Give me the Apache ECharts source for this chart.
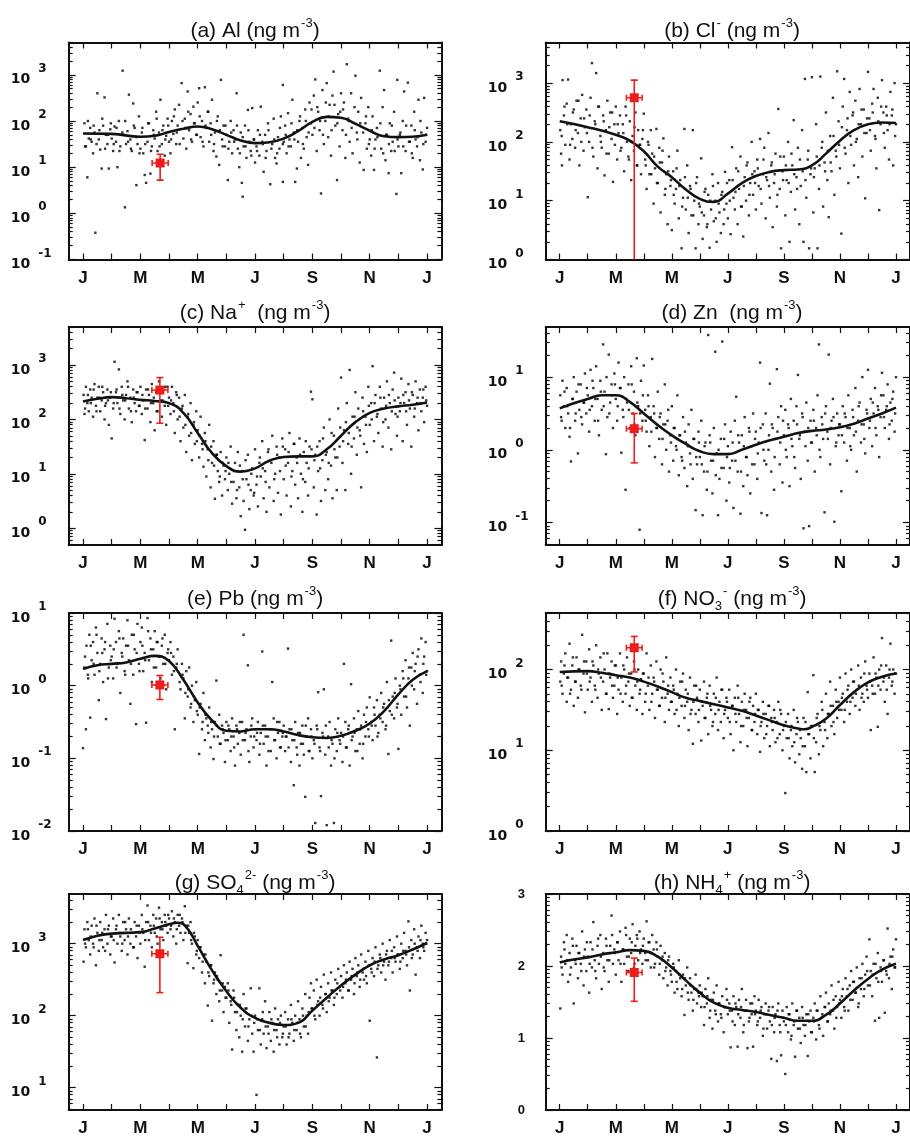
<!DOCTYPE html>
<html><head><meta charset="utf-8">
<script src="https://cdn.jsdelivr.net/npm/echarts@6/dist/echarts.min.js"></script>
<style>html,body{margin:0;padding:0;background:#fff}#c{width:910px;height:1137px}</style>
</head><body><div id="c"></div>
<script>
// x = month of year (0 = 1 Jan, 12 = next 1 Jan); y = log10 value (exponent shown on the axis)
const monthNames = ['J','M','M','J','S','N','J'];
const labelMonths = [0,2,4,6,8,10,12];
const tickMonths = [0,1,2,3,4,5,6,7,8,9,10,11,12];
// sample months of the dense core of each cloud (one value per entry in the *Core arrays)
const coreMonths = [0.07,0.17,0.27,0.37,0.47,0.57,0.67,0.77,0.87,0.97,1.07,1.17,1.27,1.37,1.47,1.57,1.67,1.77,1.87,1.97,
2.07,2.17,2.27,2.37,2.47,2.57,2.67,2.77,2.87,2.97,3.07,3.17,3.27,3.37,3.47,3.57,3.67,3.77,3.87,3.97,
4.07,4.17,4.27,4.37,4.47,4.57,4.67,4.77,4.87,4.97,5.07,5.17,5.27,5.37,5.47,5.57,5.67,5.77,5.87,5.97,
6.07,6.17,6.27,6.37,6.47,6.57,6.67,6.77,6.87,6.97,7.07,7.17,7.27,7.37,7.47,7.57,7.67,7.77,7.87,7.97,
8.07,8.17,8.27,8.37,8.47,8.57,8.67,8.77,8.87,8.97,9.07,9.17,9.27,9.37,9.47,9.57,9.67,9.77,9.87,9.97,
10.07,10.17,10.27,10.37,10.47,10.57,10.67,10.77,10.87,10.97,11.07,11.17,11.27,11.37,11.47,11.57,11.67,11.77,11.87,11.97];

// ---- (a) Al ----
const alDots = [[0.05,1.95],[0.1,1.45],[0.15,0.78],[0.2,1.62],[0.25,1.85],[0.3,1.55],[0.35,1.3],[0.4,1.75],[0.43,-0.42],[0.5,2.6],[0.55,1.6],[0.6,1.38],[0.65,0.97],[0.7,1.9],[0.75,2.51],[0.8,1.7],[0.85,1.5],[0.9,0.97],[0.95,1.82],[1.0,1.62],
[1.05,1.35],[1.1,1.88],[1.15,1.55],[1.2,1.0],[1.25,2.0],[1.3,1.45],[1.38,3.09],[1.42,1.7],[1.46,0.13],[1.5,1.5],[1.55,1.78],[1.6,2.57],[1.65,1.6],[1.7,1.35],[1.75,2.38],[1.8,1.85],[1.86,0.61],[1.9,1.5],[1.95,2.1],[2.0,1.4],
[2.05,1.75],[2.1,1.3],[2.15,0.83],[2.2,0.66],[2.25,1.55],[2.3,1.95],[2.35,0.86],[2.4,1.45],[2.45,1.8],[2.5,1.62],[2.55,2.2],[2.6,1.35],[2.65,1.75],[2.7,2.46],[2.75,1.5],[2.8,1.9],[2.85,1.25],[2.9,1.68],[2.95,2.05],[3.0,1.55],
[3.05,1.3],[3.1,2.0],[3.15,1.72],[3.2,2.25],[3.25,1.5],[3.3,1.9],[3.35,2.35],[3.44,2.82],[3.5,1.62],[3.55,2.05],[3.6,1.4],[3.65,2.64],[3.7,1.8],[3.75,2.15],[3.8,1.55],[3.85,2.31],[3.9,1.95],[3.95,1.7],[4.0,2.4],
[4.05,2.71],[4.1,1.65],[4.15,2.0],[4.2,1.45],[4.25,2.73],[4.3,1.85],[4.35,2.2],[4.4,1.55],[4.45,1.95],[4.5,2.46],[4.55,1.35],[4.6,1.75],[4.65,1.23],[4.7,2.1],[4.75,1.05],[4.81,2.89],[4.85,1.6],[4.9,1.9],[4.95,1.45],[5.0,1.7],
[5.05,0.72],[5.1,1.55],[5.15,2.0],[5.2,1.3],[5.25,1.8],[5.3,1.6],[5.36,2.6],[5.4,1.4],[5.45,1.0],[5.5,1.75],[5.54,0.66],[5.57,0.36],[5.6,1.45],[5.65,1.9],[5.7,1.2],[5.75,2.24],[5.8,1.55],[5.85,1.35],[5.9,2.28],[5.95,1.6],[6.0,1.1],
[6.05,1.45],[6.1,1.8],[6.15,1.25],[6.2,2.31],[6.25,1.55],[6.3,0.9],[6.35,1.7],[6.4,1.35],[6.45,1.95],[6.53,0.63],[6.6,1.5],[6.65,2.05],[6.7,1.2],[6.75,1.08],[6.8,1.65],[6.85,1.4],[6.9,2.1],[6.97,2.78],[6.97,0.68],[7.0,1.55],
[7.05,1.9],[7.1,1.3],[7.15,2.17],[7.2,1.6],[7.25,1.45],[7.3,2.46],[7.35,1.75],[7.4,0.68],[7.46,0.97],[7.5,1.55],[7.55,2.0],[7.6,1.2],[7.65,1.85],[7.7,1.4],[7.75,2.25],[7.8,1.65],[7.85,1.05],[7.9,2.4],[7.95,1.95],[8.0,1.7],
[8.05,2.55],[8.1,2.9],[8.15,1.35],[8.2,2.2],[8.25,1.8],[8.3,0.43],[8.35,2.67],[8.4,1.5],[8.45,2.0],[8.5,2.82],[8.55,1.65],[8.6,2.35],[8.65,1.25],[8.7,2.55],[8.74,3.07],[8.8,1.9],[8.86,0.72],[8.9,2.15],[8.95,1.45],[9.0,2.6],
[9.05,1.8],[9.1,2.4],[9.15,1.2],[9.2,3.23],[9.25,2.05],[9.3,1.55],[9.35,2.6],[9.4,1.3],[9.5,2.98],[9.55,1.75],[9.6,2.2],[9.65,1.1],[9.7,2.5],[9.79,0.94],[9.85,1.95],[9.9,1.4],[9.95,2.3],[10.0,1.6],
[10.05,1.25],[10.1,2.1],[10.15,0.94],[10.2,1.6],[10.25,1.85],[10.35,3.09],[10.4,1.4],[10.45,2.3],[10.5,2.67],[10.55,1.15],[10.6,1.7],[10.66,0.87],[10.7,1.95],[10.75,1.35],[10.8,1.55],[10.85,2.2],[10.93,0.42],[10.96,2.89],[11.0,1.45],
[11.05,1.7],[11.1,0.87],[11.15,2.0],[11.2,2.64],[11.25,1.35],[11.33,2.83],[11.4,1.55],[11.45,1.9],[11.5,1.2],[11.55,2.2],[11.6,1.6],[11.65,1.45],[11.7,2.46],[11.75,1.15],[11.8,1.75],[11.85,0.95],[11.9,2.5],[11.95,1.55],[12.0,1.85]];
const alCore = [1.45,2.0,1.6,1.9,1.5,1.8,2.05,1.4,1.7,1.95, 1.5,1.85,1.35,1.75,2.0,1.55,1.4,1.9,1.65,1.3,
1.85,1.5,1.95,1.35,1.7,2.05,1.45,1.8,1.6,1.9, 1.6,2.1,1.75,1.5,2.0,1.85,2.2,1.6,1.95,1.7,
2.1,1.55,1.9,2.2,1.7,1.5,2.0,1.8,1.45,1.9, 1.4,1.75,1.55,1.9,1.3,1.65,1.45,1.8,1.25,1.6,
1.35,1.7,1.5,1.2,1.8,1.4,1.6,1.3,1.85,1.5, 1.7,1.45,1.95,1.6,1.8,2.1,1.5,2.0,1.75,2.25,
1.85,2.3,2.0,1.7,2.4,2.1,1.8,2.35,1.95,2.2, 2.25,1.7,2.0,1.85,2.3,1.6,1.95,1.75,2.1,1.5,
1.8,1.4,1.65,1.95,1.3,1.7,1.5,1.9,1.35,1.6, 1.75,1.45,1.9,1.55,1.3,1.8,1.65,2.0,1.5,1.7];
const alLine = [[0,1.73],[1,1.72],[2,1.66],[2.5,1.68],[3,1.76],[3.5,1.83],[4,1.88],[4.5,1.82],[5,1.70],[5.5,1.58],[6,1.52],[6.5,1.54],[7,1.62],[7.5,1.78],[8,1.98],[8.5,2.09],[9,2.07],[9.5,1.94],[10,1.79],[10.5,1.67],[11,1.65],[11.5,1.66],[12,1.70]];
const alObs = [2.69, 1.09, 2.41, 2.97, 0.72, 1.28];

// ---- (b) Cl- ----
const clDots = [[0.02,2.2],[0.05,1.8],[0.08,1.6],[0.1,3.05],[0.15,2.45],[0.2,1.95],[0.25,2.65],[0.3,3.06],[0.35,1.7],[0.4,2.3],[0.45,2.05],[0.5,2.55],[0.55,1.9],[0.6,2.7],[0.65,2.15],[0.7,1.6],[0.75,2.4],[0.8,2.8],[0.85,1.85],[0.9,2.25],[0.95,2.55],
[1.0,1.06],[1.05,2.0],[1.1,2.75],[1.15,3.34],[1.2,1.75],[1.25,2.35],[1.3,3.17],[1.35,1.55],[1.4,2.6],[1.45,2.1],[1.5,1.9],[1.55,2.45],[1.6,1.43],[1.65,2.2],[1.7,2.7],[1.75,1.8],[1.8,2.5],[1.85,2.05],[1.9,1.32],[1.95,2.3],
[2.0,2.6],[2.05,1.7],[2.1,2.15],[2.15,2.45],[2.2,1.9],[2.25,2.3],[2.3,1.5],[2.35,2.6],[2.4,2.0],[2.45,1.75],[2.5,2.35],[2.55,1.35],[2.6,2.1],[2.65,1.85],[2.7,2.5],[2.75,1.6],[2.8,2.2],[2.85,1.95],[2.9,1.45],[2.95,2.05],
[3.0,2.48],[3.05,1.7],[3.1,1.2],[3.15,2.0],[3.2,1.45],[3.25,2.2],[3.3,1.8],[3.35,0.95],[3.4,1.55],[3.45,2.22],[3.5,1.3],[3.55,1.9],[3.6,0.8],[3.65,1.65],[3.7,2.06],[3.75,1.1],[3.8,1.45],[3.85,0.6],[3.9,1.75],[3.95,1.25],
[4.0,0.5],[4.05,1.5],[4.1,0.95],[4.15,1.2],[4.2,1.85],[4.25,0.7],[4.3,1.35],[4.35,0.19],[4.4,1.05],[4.45,2.22],[4.5,0.85],[4.55,1.6],[4.6,0.45],[4.65,1.25],[4.7,0.75],[4.75,2.2],[4.8,1.0],[4.85,0.19],[4.9,1.4],[4.95,0.6],
[5.0,0.9],[5.05,1.72],[5.1,0.35],[5.15,0.75],[5.2,1.2],[5.25,0.55],[5.3,1.1],[5.35,0.2],[5.4,0.85],[5.45,1.45],[5.5,0.65],[5.55,1.0],[5.6,0.3],[5.65,1.3],[5.7,0.8],[5.75,0.45],[5.8,1.15],[5.85,0.6],[5.9,1.49],[5.95,0.95],
[6.0,0.7],[6.05,1.35],[6.1,0.43],[6.15,1.91],[6.2,1.05],[6.25,0.85],[6.3,1.55],[6.35,0.6],[6.4,1.2],[6.45,1.75],[6.5,0.9],[6.55,0.39],[6.6,1.4],[6.65,1.0],[6.7,1.65],[6.75,0.75],[6.8,1.3],[6.85,2.0],[6.9,1.1],[6.95,1.5],
[7.0,0.85],[7.05,1.7],[7.1,1.25],[7.15,2.05],[7.2,0.95],[7.25,1.45],[7.3,1.9],[7.35,0.7],[7.4,1.35],[7.45,2.15],[7.5,1.05],[7.55,1.6],[7.6,0.55],[7.65,1.3],[7.7,1.8],[7.75,0.9],[7.8,2.56],[7.85,1.2],[7.9,0.19],[7.95,1.5],
[8.0,1.75],[8.05,0.75],[8.1,1.35],[8.15,2.0],[8.2,0.3],[8.25,1.15],[8.3,1.6],[8.35,2.37],[8.4,0.85],[8.45,1.4],[8.5,1.9],[8.55,0.6],[8.6,1.25],[8.65,2.2],[8.7,0.3],[8.75,3.07],[8.8,1.05],[8.85,1.7],[8.9,0.19],[8.95,1.45],
[9.0,3.1],[9.05,0.8],[9.1,1.55],[9.15,2.3],[9.2,0.19],[9.25,1.2],[9.3,3.11],[9.35,1.9],[9.4,0.9],[9.45,1.65],[9.5,2.5],[9.55,1.35],[9.6,0.72],[9.65,2.1],[9.7,1.5],[9.75,2.75],[9.8,1.1],[9.85,1.85],[9.9,3.2],[9.95,2.35],
[10.0,1.55],[10.05,0.44],[10.1,2.6],[10.15,3.07],[10.2,1.8],[10.25,2.2],[10.3,1.3],[10.35,2.85],[10.4,1.95],[10.45,2.45],[10.5,1.6],[10.55,2.7],[10.6,2.05],[10.65,1.4],[10.7,2.9],[10.75,2.3],[10.8,1.75],[10.85,2.55],[10.9,1.04],[10.95,2.15],
[11.0,3.19],[11.05,2.4],[11.1,1.85],[11.15,2.65],[11.2,2.9],[11.25,2.1],[11.3,1.55],[11.35,2.75],[11.4,0.84],[11.45,2.3],[11.5,3.05],[11.55,2.5],[11.6,1.9],[11.65,2.6],[11.7,2.2],[11.75,1.7],[11.8,2.85],[11.85,2.45],[11.9,1.6],[11.95,3.0],[12.0,2.3]];
const clCore = [2.1,2.6,2.3,1.95,2.5,2.2,2.7,2.0,2.4,2.15, 2.45,1.9,2.3,2.6,2.0,2.35,1.8,2.25,2.5,1.95,
2.3,1.85,2.15,2.45,1.7,2.0,2.25,1.6,1.95,2.2, 1.6,1.95,1.45,1.75,1.3,1.65,1.85,1.2,1.5,1.35,
1.1,1.55,1.25,0.9,1.4,1.05,1.2,0.75,1.3,0.95, 0.8,1.15,0.6,1.0,1.25,0.7,0.95,1.1,0.85,1.3,
1.0,1.35,1.15,1.5,0.9,1.25,1.6,1.1,1.45,1.3, 1.55,1.2,1.7,1.4,1.25,1.65,1.45,1.1,1.75,1.35,
1.6,1.3,1.8,1.45,1.2,1.7,1.5,1.35,1.85,1.55, 1.4,1.75,1.6,2.0,1.5,1.85,1.65,2.1,1.75,1.95,
2.25,1.9,2.4,2.1,2.5,2.0,2.3,2.55,2.15,2.4, 2.2,2.5,2.05,2.35,2.6,2.15,2.45,2.3,2.55,2.1];
const clLine = [[0,2.35],[1,2.25],[2,2.12],[2.5,2.02],[3,1.84],[3.5,1.58],[4,1.4],[4.5,1.19],[5,1.03],[5.5,0.98],[6,1.12],[6.5,1.3],[7,1.42],[7.5,1.49],[8,1.52],[8.5,1.53],[9,1.6],[9.5,1.8],[10,2.02],[10.5,2.2],[11,2.3],[11.5,2.33],[12,2.32]];
const clObs = [2.66, 2.75, 2.38, 2.94, -0.3, 3.05];

// ---- (c) Na+ ----
const naDots = [[0.02,2.45],[0.05,2.1],[0.1,2.6],[0.15,2.3],[0.2,2.15],[0.25,2.55],[0.3,2.4],[0.35,2.05],[0.4,2.65],[0.45,2.25],[0.5,2.4],[0.55,2.6],[0.6,2.15],[0.65,2.35],[0.7,2.5],[0.75,2.0],[0.8,2.3],[0.85,2.55],[0.9,1.9],[0.95,2.4],
[1.0,1.65],[1.05,2.2],[1.1,3.06],[1.15,2.5],[1.2,2.3],[1.25,2.92],[1.3,2.1],[1.35,2.6],[1.4,2.35],[1.45,2.0],[1.5,2.45],[1.55,2.7],[1.6,2.2],[1.65,2.4],[1.7,1.95],[1.75,2.55],[1.8,2.3],[1.85,2.15],[1.9,2.5],[1.95,2.25],
[2.0,2.6],[2.05,2.1],[2.1,2.35],[2.15,1.62],[2.2,2.55],[2.25,2.2],[2.3,2.45],[2.35,1.95],[2.4,2.65],[2.45,2.3],[2.5,1.8],[2.55,2.5],[2.6,2.15],[2.65,2.7],[2.7,2.35],[2.75,2.05],[2.8,2.55],[2.85,2.25],[2.9,1.9],[2.95,2.6],
[3.0,2.4],[3.05,2.1],[3.1,2.6],[3.15,2.3],[3.2,1.75],[3.25,2.5],[3.3,2.0],[3.35,2.4],[3.4,1.6],[3.45,2.2],[3.5,1.85],[3.55,2.45],[3.6,1.4],[3.65,2.05],[3.7,1.7],[3.75,2.3],[3.8,1.25],[3.85,1.9],[3.9,1.55],[3.95,2.15],
[4.0,1.8],[4.05,1.3],[4.1,2.05],[4.15,1.55],[4.2,1.13],[4.25,1.75],[4.3,0.95],[4.35,1.45],[4.4,1.9],[4.45,0.75],[4.5,1.2],[4.55,1.6],[4.6,0.54],[4.65,1.35],[4.7,1.05],[4.75,0.85],[4.8,1.4],[4.85,0.6],[4.9,1.15],[4.95,0.9],
[5.0,1.3],[5.05,0.7],[5.1,1.0],[5.15,1.5],[5.2,0.45],[5.25,0.85],[5.3,1.2],[5.35,0.55],[5.4,1.4],[5.45,0.75],[5.5,0.22],[5.55,1.05],[5.6,0.5],[5.65,-0.03],[5.7,0.9],[5.75,1.35],[5.8,0.35],[5.85,0.7],[5.9,1.1],[5.95,0.6],
[6.0,1.45],[6.05,0.8],[6.1,0.4],[6.15,1.2],[6.2,0.95],[6.25,1.6],[6.3,0.55],[6.35,1.05],[6.4,0.3],[6.45,1.4],[6.5,0.75],[6.55,1.25],[6.6,1.7],[6.65,0.5],[6.7,1.0],[6.75,1.5],[6.8,0.65],[6.85,1.3],[6.9,0.25],[6.95,1.65],
[7.0,0.9],[7.05,1.45],[7.1,0.6],[7.15,1.2],[7.2,1.75],[7.25,0.4],[7.3,1.05],[7.35,1.55],[7.4,0.8],[7.45,1.3],[7.5,0.55],[7.55,1.65],[7.6,1.0],[7.65,0.3],[7.7,1.4],[7.75,0.85],[7.8,1.2],[7.85,0.6],[7.9,1.5],[7.95,2.51],
[8.0,2.37],[8.05,0.75],[8.1,1.35],[8.15,0.25],[8.2,1.05],[8.25,1.6],[8.3,0.5],[8.35,1.25],[8.4,1.85],[8.45,0.7],[8.5,1.4],[8.55,0.9],[8.6,2.0],[8.65,1.15],[8.7,0.55],[8.75,1.7],[8.8,1.3],[8.85,0.7],[8.9,2.2],[8.95,1.5],
[9.0,2.77],[9.05,1.2],[9.1,1.8],[9.15,0.7],[9.2,2.3],[9.25,1.55],[9.3,2.91],[9.35,1.0],[9.4,2.05],[9.45,1.65],[9.5,2.5],[9.55,1.35],[9.6,2.2],[9.65,1.8],[9.7,0.75],[9.75,2.4],[9.8,1.55],[9.85,2.05],[9.9,1.4],[9.95,2.6],
[10.0,1.9],[10.05,2.3],[10.1,2.98],[10.15,1.6],[10.2,2.45],[10.25,2.05],[10.3,1.75],[10.35,2.6],[10.4,2.2],[10.45,1.5],[10.5,2.4],[10.55,2.0],[10.6,2.7],[10.65,1.85],[10.7,2.3],[10.75,1.45],[10.8,2.55],[10.85,2.86],[10.9,2.1],[10.95,1.7],
[11.0,2.4],[11.05,2.15],[11.1,2.75],[11.15,1.6],[11.2,2.3],[11.25,2.5],[11.3,1.9],[11.35,2.65],[11.4,2.2],[11.45,1.5],[11.5,2.45],[11.55,2.05],[11.6,2.7],[11.65,2.3],[11.7,1.8],[11.75,2.55],[11.8,2.15],[11.85,2.4],[11.9,1.95],[11.95,2.6],[12.0,2.25]];
const naCore = [2.2,2.45,2.3,2.55,2.15,2.4,2.6,2.25,2.35,2.5, 2.3,2.55,2.2,2.45,2.35,2.6,2.15,2.4,2.5,2.25,
2.45,2.2,2.55,2.3,2.4,2.15,2.5,2.35,2.6,2.25, 2.35,2.15,2.45,2.05,2.25,1.9,2.1,1.75,1.95,1.6,
1.7,1.45,1.6,1.25,1.5,1.15,1.35,0.95,1.2,1.05, 1.2,0.85,1.05,0.7,1.15,0.9,1.25,0.8,1.0,0.65,
0.95,1.3,1.1,0.85,1.45,1.2,0.9,1.35,1.05,1.5, 1.15,1.4,0.95,1.55,1.2,1.35,0.9,1.6,1.1,1.45,
1.25,1.5,1.1,1.65,1.35,1.2,1.75,1.45,1.3,1.85, 1.6,1.95,1.75,1.5,2.05,1.85,1.7,2.15,1.9,2.25,
2.0,2.3,2.1,2.4,1.95,2.25,2.45,2.15,2.35,2.05, 2.3,2.45,2.15,2.35,2.5,2.2,2.4,2.3,2.55,2.35];
const naLine = [[0,2.33],[0.5,2.38],[1,2.41],[1.5,2.39],[2,2.36],[2.5,2.34],[3,2.3],[3.5,2.12],[4,1.75],[4.5,1.38],[5,1.14],[5.5,1.04],[6,1.1],[6.5,1.24],[7,1.31],[7.5,1.32],[8,1.32],[8.5,1.45],[9,1.7],[9.5,1.95],[10,2.12],[10.5,2.2],[11,2.24],[11.5,2.27],[12,2.31]];
const naObs = [2.68, 2.54, 2.40, 2.96, 1.93, 2.77];

// ---- (d) Zn ----
const znDots = [[0.02,0.75],[0.05,0.45],[0.1,0.95],[0.15,0.6],[0.2,0.3],[0.25,0.85],[0.3,0.5],[0.35,0.18],[0.4,-0.16],[0.45,0.7],[0.5,1.0],[0.55,0.4],[0.6,0.8],[0.65,-0.05],[0.7,0.55],[0.75,0.9],[0.8,0.35],[0.85,0.65],[0.9,1.05],[0.95,0.5],
[1.0,0.75],[1.05,0.25],[1.1,1.1],[1.15,0.6],[1.2,0.85],[1.25,0.4],[1.3,1.15],[1.35,0.7],[1.4,0.2],[1.45,0.95],[1.5,0.55],[1.55,1.45],[1.6,0.8],[1.65,-0.06],[1.7,0.45],[1.75,1.31],[1.8,0.65],[1.85,0.9],[1.9,0.3],[1.95,1.05],
[2.0,0.7],[2.05,0.4],[2.1,1.2],[2.15,0.85],[2.2,-0.04],[2.25,0.55],[2.3,1.0],[2.35,-0.55],[2.4,0.65],[2.45,0.9],[2.5,0.3],[2.55,1.15],[2.6,0.5],[2.65,0.8],[2.7,0.2],[2.75,1.26],[2.8,0.6],[2.85,-1.1],[2.9,0.95],[2.95,0.4],
[3.0,1.16],[3.05,0.55],[3.1,0.25],[3.15,0.75],[3.2,0.05],[3.25,0.45],[3.3,1.25],[3.35,0.6],[3.4,-0.1],[3.45,0.3],[3.5,0.8],[3.55,0.15],[3.6,0.5],[3.65,-0.2],[3.7,0.35],[3.75,0.9],[3.8,0.0],[3.85,0.4],[3.9,-0.3],[3.95,0.2],
[4.0,0.6],[4.05,-0.15],[4.1,0.3],[4.15,0.05],[4.2,0.75],[4.25,-0.35],[4.3,0.2],[4.35,-0.1],[4.4,0.45],[4.45,-0.25],[4.5,0.1],[4.55,-0.5],[4.6,0.35],[4.65,-0.05],[4.7,0.55],[4.75,-0.4],[4.8,0.15],[4.85,-0.83],[4.9,-0.2],[4.95,0.25],
[5.0,-0.1],[5.05,0.4],[5.1,-0.9],[5.15,-0.3],[5.2,0.1],[5.25,-0.55],[5.3,1.58],[5.35,0.2],[5.4,-0.15],[5.45,-0.6],[5.5,0.3],[5.55,1.35],[5.6,-0.05],[5.65,-0.9],[5.7,-0.4],[5.75,0.15],[5.8,1.49],[5.85,-0.25],[5.9,0.35],[5.95,-0.7],
[6.0,0.05],[6.05,-0.45],[6.1,0.25],[6.15,-0.15],[6.2,-0.8],[6.25,0.4],[6.3,0.73],[6.35,-0.3],[6.4,0.1],[6.45,-0.88],[6.5,0.2],[6.55,-0.5],[6.6,0.45],[6.65,-0.1],[6.7,-0.35],[6.75,0.3],[6.8,-0.6],[6.85,0.05],[6.9,0.5],[6.95,-0.2],
[7.0,0.25],[7.05,-0.4],[7.1,0.1],[7.15,1.2],[7.2,-0.87],[7.25,0.35],[7.3,-0.15],[7.35,0.5],[7.4,-0.9],[7.45,0.0],[7.5,0.91],[7.55,-0.3],[7.6,0.3],[7.65,-0.55],[7.7,0.15],[7.75,1.11],[7.8,0.45],[7.85,-0.2],[7.9,0.6],[7.95,-0.45],
[8.0,0.2],[8.05,0.55],[8.1,-0.1],[8.15,0.35],[8.2,-0.5],[8.25,0.7],[8.3,0.05],[8.35,0.4],[8.4,-0.25],[8.45,0.6],[8.5,1.03],[8.55,0.15],[8.6,-0.4],[8.65,0.5],[8.7,-1.08],[8.75,0.25],[8.8,0.65],[8.85,-0.15],[8.9,-1.05],[8.95,0.4],
[9.0,0.1],[9.05,0.55],[9.1,-0.3],[9.15,0.3],[9.2,0.75],[9.25,1.45],[9.3,-0.1],[9.35,0.45],[9.4,0.15],[9.45,-0.86],[9.5,0.6],[9.55,0.25],[9.6,1.31],[9.65,-0.2],[9.7,0.4],[9.75,0.7],[9.8,-0.99],[9.85,0.05],[9.9,0.5],[9.95,0.2],
[10.0,0.35],[10.05,-0.57],[10.1,0.6],[10.15,0.1],[10.2,0.45],[10.25,-0.15],[10.3,0.75],[10.35,0.3],[10.4,0.0],[10.45,0.55],[10.5,0.2],[10.55,0.85],[10.6,-0.3],[10.65,0.4],[10.7,0.65],[10.75,0.1],[10.8,1.0],[10.85,0.35],[10.9,-0.05],[10.95,0.55],
[11.0,1.1],[11.05,0.3],[11.1,0.7],[11.15,0.05],[11.2,0.5],[11.25,0.85],[11.3,0.2],[11.35,0.6],[11.4,-0.1],[11.45,0.45],[11.5,1.06],[11.55,0.75],[11.6,0.3],[11.65,0.55],[11.7,0.9],[11.75,0.15],[11.8,0.65],[11.85,0.4],[11.9,0.8],[11.95,0.25],[12.0,1.0]];
const znCore = [0.4,0.8,0.6,0.3,0.7,0.5,0.9,0.45,0.65,0.85, 0.55,0.95,0.7,0.4,0.8,0.6,1.0,0.5,0.75,0.9,
0.6,0.85,0.45,0.7,0.55,0.9,0.35,0.65,0.5,0.75, 0.4,0.6,0.25,0.5,0.3,0.45,0.15,0.35,0.55,0.1,
0.3,0.0,0.2,-0.15,0.25,0.05,-0.2,0.15,-0.1,0.1, -0.2,0.05,-0.3,0.1,-0.15,-0.35,0.0,-0.25,0.15,-0.1,
-0.25,0.1,-0.15,0.2,-0.3,0.05,-0.1,0.25,-0.2,0.15, -0.05,0.3,0.0,-0.2,0.2,0.35,-0.1,0.25,0.1,0.4,
0.0,0.3,0.15,-0.1,0.35,0.2,0.45,0.05,0.3,0.1, 0.4,0.2,0.0,0.35,0.5,0.15,0.3,0.45,0.1,0.35,
0.2,0.5,0.3,0.05,0.45,0.25,0.6,0.35,0.15,0.5, 0.4,0.65,0.3,0.55,0.75,0.45,0.6,0.35,0.7,0.5];
const znLine = [[0,0.57],[0.5,0.64],[1,0.7],[1.5,0.75],[2,0.75],[2.5,0.66],[3,0.5],[3.5,0.34],[4,0.2],[4.5,0.08],[5,-0.02],[5.5,-0.06],[6,-0.06],[6.5,0.0],[7,0.07],[7.5,0.13],[8,0.18],[8.5,0.23],[9,0.26],[9.5,0.28],[10,0.31],[10.5,0.36],[11,0.43],[11.5,0.5],[12,0.58]];
const znObs = [2.66, 0.29, 2.38, 2.94, -0.18, 0.5];

// ---- (e) Pb ----
const pbDots = [[0.0,-0.86],[0.05,0.25],[0.1,-0.6],[0.12,0.55],[0.18,0.1],[0.22,0.7],[0.25,-0.44],[0.3,0.35],[0.35,0.6],[0.4,0.15],[0.45,0.8],[0.5,0.45],[0.55,-0.2],[0.6,0.3],[0.65,0.65],[0.7,0.05],[0.75,0.5],[0.8,-0.46],[0.85,0.85],[0.9,0.25],[0.95,0.55],
[1.0,0.4],[1.05,0.1],[1.1,0.92],[1.15,0.6],[1.2,0.3],[1.25,0.75],[1.3,-0.1],[1.35,0.45],[1.4,0.65],[1.45,0.2],[1.5,0.55],[1.55,0.9],[1.6,0.35],[1.65,-0.25],[1.7,0.7],[1.75,0.15],[1.8,0.5],[1.85,-0.53],[1.9,0.85],[1.95,0.3],
[2.0,0.6],[2.05,0.8],[2.1,0.2],[2.15,0.45],[2.2,-0.51],[2.25,0.93],[2.3,0.35],[2.35,0.65],[2.4,0.05],[2.45,0.5],[2.5,0.75],[2.55,0.25],[2.6,0.6],[2.65,0.4],[2.7,0.1],[2.75,0.55],[2.8,0.3],[2.85,0.7],[2.9,-0.05],[2.95,0.45],
[3.0,0.35],[3.05,0.6],[3.1,0.15],[3.15,0.4],[3.2,-0.6],[3.25,0.25],[3.3,0.5],[3.4,-0.05],[3.45,0.3],[3.5,0.1],[3.55,-0.45],[3.6,0.2],[3.65,-0.15],[3.7,0.25],[3.75,-0.3],[3.8,0.0],[3.85,-0.5],[3.9,-0.2],[3.95,0.05],
[4.0,-0.4],[4.05,-0.94],[4.1,-0.25],[4.15,-0.6],[4.2,-0.1],[4.25,-0.75],[4.3,-0.45],[4.35,-0.55],[4.4,-0.3],[4.45,-0.85],[4.5,-0.6],[4.55,-1.01],[4.6,-0.5],[4.65,0.07],[4.7,-0.7],[4.75,-0.4],[4.8,-0.8],[4.85,-0.55],[4.9,-0.65],[4.95,-1.05],
[5.0,-0.5],[5.05,-0.75],[5.1,-0.6],[5.15,-0.9],[5.2,-0.45],[5.25,-0.7],[5.3,-1.1],[5.35,-0.55],[5.4,-0.8],[5.45,-0.65],[5.5,-0.95],[5.55,-0.5],[5.6,0.7],[5.65,-0.75],[5.7,-0.6],[5.75,0.28],[5.8,-1.05],[5.85,-0.7],[5.9,-0.45],[5.95,-0.85],
[6.0,-0.6],[6.05,-0.75],[6.1,-0.5],[6.15,-0.95],[6.2,-0.65],[6.25,0.47],[6.3,-0.8],[6.35,-0.55],[6.4,-1.1],[6.45,-0.7],[6.5,-0.6],[6.55,-0.9],[6.6,0.05],[6.65,-0.45],[6.7,-0.75],[6.75,-1.0],[6.8,-0.65],[6.85,-0.5],[6.9,-0.85],[6.95,-0.7],
[7.0,-0.55],[7.05,-0.9],[7.1,-0.7],[7.15,0.51],[7.2,-0.6],[7.25,-1.05],[7.3,-0.75],[7.35,-1.37],[7.4,-0.5],[7.45,-0.85],[7.5,-0.65],[7.55,-1.1],[7.6,-0.8],[7.65,-0.55],[7.7,-0.95],[7.75,-1.53],[7.8,-0.7],[7.85,-0.45],[7.9,-0.9],[7.95,-0.6],
[8.0,-1.0],[8.05,-0.75],[8.1,-1.89],[8.15,-0.55],[8.2,-0.09],[8.25,-0.85],[8.3,-1.52],[8.35,-0.65],[8.4,-0.05],[8.45,-0.95],[8.5,-1.92],[8.55,-0.7],[8.6,-0.5],[8.65,-1.1],[8.7,-0.8],[8.75,-1.89],[8.8,-0.6],[8.85,-0.9],[8.9,-0.45],[8.95,-0.75],
[9.0,-0.65],[9.05,-1.05],[9.1,0.3],[9.15,-0.5],[9.2,-0.85],[9.25,-0.6],[9.3,-1.1],[9.35,0.02],[9.4,-0.7],[9.45,-0.45],[9.5,-0.9],[9.55,-0.6],[9.6,-0.35],[9.65,-0.8],[9.7,-0.55],[9.75,-1.0],[9.8,-0.4],[9.85,-0.7],[9.9,-0.3],[9.95,-0.6],
[10.0,-0.16],[10.05,-0.5],[10.1,-0.75],[10.15,-0.3],[10.2,-0.55],[10.25,-0.2],[10.3,-0.65],[10.35,-0.4],[10.4,-0.1],[10.45,-0.5],[10.5,-0.25],[10.55,-0.6],[10.6,0.05],[10.65,-0.94],[10.7,-0.35],[10.75,0.62],[10.8,-0.15],[10.85,-0.45],[10.9,0.1],[10.95,-0.3],
[11.0,-0.87],[11.05,0.0],[11.1,-0.4],[11.15,0.2],[11.2,-0.15],[11.25,0.35],[11.3,-0.3],[11.35,0.1],[11.4,-0.55],[11.45,0.25],[11.5,0.45],[11.55,-0.05],[11.6,0.3],[11.65,-0.25],[11.7,0.5],[11.75,0.15],[11.8,0.65],[11.85,-0.1],[11.9,0.4],[11.95,0.6],[12.0,0.2]];
const pbCore = [0.4,0.15,0.55,0.3,0.7,0.2,0.45,0.6,0.1,0.35, 0.5,0.25,0.65,0.4,0.15,0.55,0.3,0.7,0.45,0.2,
0.55,0.35,0.75,0.5,0.25,0.6,0.4,0.65,0.3,0.5, 0.45,0.2,0.3,0.05,0.15,-0.1,-0.05,-0.25,-0.15,-0.35,
-0.3,-0.5,-0.4,-0.65,-0.5,-0.7,-0.55,-0.8,-0.6,-0.75, -0.55,-0.7,-0.85,-0.6,-0.5,-0.75,-0.65,-0.9,-0.55,-0.7,
-0.65,-0.8,-0.55,-0.7,-0.9,-0.6,-0.75,-0.5,-0.85,-0.65, -0.7,-0.85,-0.6,-0.75,-0.95,-0.65,-0.8,-0.55,-0.9,-0.7,
-0.8,-0.6,-0.9,-0.7,-0.55,-0.85,-0.75,-1.0,-0.65,-0.8, -0.7,-0.85,-0.55,-0.75,-0.65,-0.9,-0.6,-0.8,-0.5,-0.7,
-0.55,-0.4,-0.7,-0.45,-0.3,-0.55,-0.2,-0.4,-0.1,-0.25, -0.05,0.1,-0.15,0.25,0.0,0.2,0.4,0.05,0.3,0.15];
const pbLine = [[0,0.23],[0.5,0.28],[1,0.3],[1.5,0.32],[2,0.37],[2.5,0.41],[3,0.34],[3.5,0.08],[4,-0.23],[4.5,-0.48],[5,-0.62],[5.5,-0.63],[6,-0.6],[6.5,-0.6],[7,-0.63],[7.5,-0.68],[8,-0.71],[8.5,-0.72],[9,-0.69],[9.5,-0.62],[10,-0.52],[10.5,-0.35],[11,-0.12],[11.5,0.08],[12,0.2]];
const pbObs = [2.68, 0.01, 2.40, 2.96, -0.19, 0.14];

// ---- (f) NO3- ----
const no3Dots = [[0.02,1.85],[0.05,2.1],[0.1,1.7],[0.15,1.95],[0.2,2.2],[0.25,1.6],[0.3,1.9],[0.35,2.32],[0.4,1.75],[0.45,2.05],[0.5,1.55],[0.55,1.85],[0.6,2.15],[0.65,1.65],[0.7,2.0],[0.75,1.8],[0.8,2.43],[0.85,1.95],[0.9,1.47],[0.95,2.1],
[1.0,1.75],[1.05,2.25],[1.1,1.9],[1.15,1.6],[1.2,2.05],[1.25,1.8],[1.3,2.3],[1.35,1.65],[1.4,1.95],[1.45,2.15],[1.5,1.5],[1.55,1.85],[1.6,2.0],[1.65,1.7],[1.7,2.2],[1.75,1.51],[1.8,1.9],[1.85,2.1],[1.9,1.65],[1.95,1.8],
[2.0,2.05],[2.05,1.45],[2.1,1.75],[2.15,2.2],[2.2,1.9],[2.25,1.6],[2.3,2.0],[2.35,1.7],[2.4,2.15],[2.45,1.85],[2.5,1.55],[2.55,1.95],[2.6,1.65],[2.65,2.1],[2.7,1.8],[2.75,1.5],[2.8,2.0],[2.85,1.7],[2.9,1.88],[2.95,1.45],
[3.0,1.95],[3.05,1.6],[3.1,2.2],[3.15,1.8],[3.2,1.5],[3.25,2.05],[3.3,1.7],[3.35,1.9],[3.4,1.4],[3.45,2.1],[3.5,1.75],[3.55,1.55],[3.6,2.0],[3.65,1.65],[3.7,1.85],[3.75,1.35],[3.8,2.15],[3.85,1.7],[3.9,1.5],[3.95,1.9],
[4.0,1.6],[4.05,1.8],[4.1,1.45],[4.15,2.0],[4.2,1.7],[4.25,1.3],[4.3,1.85],[4.35,1.55],[4.4,1.95],[4.45,1.4],[4.5,1.75],[4.55,1.6],[4.6,1.25],[4.65,1.9],[4.7,1.5],[4.75,1.08],[4.8,1.8],[4.85,1.45],[4.9,1.65],[4.95,1.35],
[5.0,1.75],[5.05,1.12],[5.1,1.55],[5.15,1.85],[5.2,1.4],[5.25,1.65],[5.3,1.2],[5.35,1.8],[5.4,1.5],[5.45,1.3],[5.5,1.7],[5.55,1.45],[5.6,1.9],[5.65,1.25],[5.7,1.6],[5.75,1.35],[5.8,1.75],[5.85,1.15],[5.9,1.5],[5.95,1.65],
[6.0,1.4],[6.05,1.75],[6.1,1.2],[6.15,1.55],[6.2,1.0],[6.25,1.65],[6.3,1.35],[6.35,1.8],[6.4,1.45],[6.45,1.1],[6.5,1.6],[6.55,1.3],[6.6,1.7],[6.65,1.5],[6.7,1.05],[6.75,1.4],[6.8,1.65],[6.85,1.25],[6.9,1.55],[6.95,1.35],
[7.0,1.7],[7.05,1.2],[7.1,1.5],[7.15,0.98],[7.2,1.35],[7.25,1.6],[7.3,1.15],[7.35,1.45],[7.4,1.3],[7.45,1.55],[7.5,1.05],[7.55,1.4],[7.6,1.25],[7.65,1.5],[7.7,1.1],[7.75,1.35],[7.8,1.6],[7.85,1.2],[7.9,1.45],[7.95,1.0],
[8.0,1.3],[8.05,0.47],[8.1,1.15],[8.15,1.45],[8.2,0.9],[8.25,1.25],[8.3,1.05],[8.35,1.5],[8.4,0.85],[8.45,1.2],[8.5,1.35],[8.55,0.95],[8.6,1.15],[8.65,0.77],[8.7,1.4],[8.75,1.05],[8.8,0.73],[8.85,1.72],[8.9,1.2],[8.95,0.9],
[9.0,1.3],[9.05,1.93],[9.1,0.73],[9.15,1.1],[9.2,1.45],[9.25,0.95],[9.3,1.25],[9.35,1.6],[9.4,1.05],[9.45,1.35],[9.5,1.7],[9.55,1.15],[9.6,1.45],[9.65,1.85],[9.7,1.3],[9.75,1.55],[9.8,1.2],[9.85,1.75],[9.9,1.4],[9.95,1.6],
[10.0,1.9],[10.05,1.5],[10.1,1.7],[10.15,1.35],[10.2,1.95],[10.25,1.6],[10.3,1.8],[10.35,1.45],[10.4,2.0],[10.45,1.65],[10.5,1.85],[10.55,1.55],[10.6,1.75],[10.65,2.05],[10.7,1.5],[10.75,1.9],[10.8,1.7],[10.85,1.6],[10.9,2.1],[10.95,1.8],
[11.0,1.65],[11.05,1.95],[11.1,1.25],[11.15,1.8],[11.2,2.15],[11.25,1.7],[11.3,1.9],[11.35,1.29],[11.4,2.0],[11.45,1.75],[11.5,2.39],[11.55,1.85],[11.6,1.6],[11.65,2.05],[11.7,1.45],[11.75,1.9],[11.8,2.32],[11.85,1.8],[11.9,2.0],[11.95,1.7],[12.0,1.95]];
const no3Core = [1.8,2.05,1.9,1.7,2.15,1.85,2.0,1.75,2.1,1.95, 1.85,2.1,1.75,2.0,1.9,2.2,1.7,1.95,1.8,2.05,
1.9,1.7,2.05,1.8,1.95,1.65,2.0,1.85,1.75,1.95, 1.7,1.9,1.6,1.85,1.75,1.55,1.95,1.65,1.8,1.6,
1.75,1.5,1.65,1.85,1.55,1.7,1.45,1.6,1.8,1.5, 1.6,1.4,1.7,1.55,1.35,1.65,1.5,1.75,1.45,1.6,
1.35,1.55,1.45,1.65,1.3,1.5,1.4,1.6,1.25,1.45, 1.5,1.3,1.45,1.2,1.55,1.35,1.4,1.15,1.5,1.25,
1.35,1.15,1.3,1.1,1.4,1.25,1.05,1.35,1.2,1.3, 1.15,1.4,1.3,1.5,1.25,1.45,1.55,1.35,1.6,1.5,
1.65,1.5,1.75,1.6,1.85,1.7,1.8,1.65,1.95,1.75, 1.85,1.7,1.95,1.8,2.05,1.9,1.75,2.0,1.85,1.95];
const no3Line = [[0,1.97],[1,1.98],[1.5,1.96],[2,1.93],[2.5,1.9],[3,1.85],[3.5,1.79],[4,1.72],[4.5,1.65],[5,1.61],[5.5,1.57],[6,1.53],[6.5,1.49],[7,1.43],[7.5,1.37],[8,1.31],[8.5,1.27],[8.75,1.26],[9,1.29],[9.5,1.39],[10,1.56],[10.5,1.72],[11,1.84],[11.5,1.91],[12,1.95]];
const no3Obs = [2.66, 2.27, 2.38, 2.94, 1.97, 2.41];

// ---- (g) SO4 2- ----
const so4Dots = [[0.02,2.75],[0.05,3.2],[0.1,2.95],[0.15,3.3],[0.2,3.05],[0.25,2.85],[0.3,3.25],[0.35,3.0],[0.4,3.35],[0.45,2.7],[0.5,3.15],[0.55,2.9],[0.6,3.3],[0.65,3.05],[0.7,2.95],[0.75,3.2],[0.8,3.4],[0.85,3.0],[0.9,3.25],[0.95,2.85],
[1.0,3.1],[1.05,3.35],[1.1,2.74],[1.15,3.2],[1.2,3.0],[1.25,3.4],[1.3,3.1],[1.35,2.9],[1.4,3.3],[1.45,3.05],[1.5,3.2],[1.55,2.85],[1.6,3.35],[1.65,3.0],[1.7,3.15],[1.75,2.95],[1.8,3.3],[1.85,3.1],[1.9,2.8],[1.95,3.25],
[2.0,3.0],[2.05,3.4],[2.1,3.15],[2.15,2.68],[2.2,3.3],[2.25,3.53],[2.3,3.05],[2.35,3.25],[2.4,2.95],[2.45,3.4],[2.5,3.15],[2.55,3.35],[2.6,3.0],[2.65,3.5],[2.7,3.2],[2.75,3.3],[2.8,3.05],[2.85,3.4],[2.9,3.25],[2.95,3.15],
[3.0,3.35],[3.05,3.2],[3.1,3.45],[3.15,3.1],[3.2,3.3],[3.25,3.0],[3.3,3.4],[3.35,3.25],[3.4,3.15],[3.45,3.35],[3.5,3.05],[3.55,3.52],[3.6,3.25],[3.65,2.73],[3.7,3.15],[3.75,3.3],[3.8,3.0],[3.85,2.66],[3.9,3.1],[3.95,2.85],
[4.0,3.05],[4.05,2.8],[4.1,2.95],[4.15,2.6],[4.2,2.85],[4.25,2.45],[4.3,2.75],[4.35,2.14],[4.4,2.55],[4.45,2.7],[4.5,1.93],[4.55,2.45],[4.6,2.6],[4.65,2.3],[4.7,2.5],[4.75,2.2],[4.8,2.84],[4.85,2.35],[4.9,2.05],[4.95,2.4],
[5.0,2.25],[5.05,2.45],[5.1,1.9],[5.15,2.2],[5.2,1.53],[5.25,2.35],[5.3,2.05],[5.35,1.8],[5.4,2.15],[5.45,1.7],[5.5,2.0],[5.55,1.5],[5.6,2.3],[5.65,1.85],[5.7,2.1],[5.75,1.65],[5.8,1.95],[5.85,2.38],[5.9,1.75],[5.95,1.5],
[6.0,2.0],[6.05,0.9],[6.1,1.8],[6.15,2.38],[6.2,1.6],[6.25,1.95],[6.3,1.75],[6.35,2.2],[6.4,1.55],[6.45,1.85],[6.5,2.05],[6.55,1.65],[6.6,1.9],[6.65,1.5],[6.7,2.1],[6.75,1.8],[6.8,1.95],[6.85,1.6],[6.9,2.0],[6.95,1.7],
[7.0,1.85],[7.05,2.05],[7.1,1.6],[7.15,1.95],[7.2,1.75],[7.25,2.15],[7.3,1.9],[7.35,1.65],[7.4,2.0],[7.45,1.8],[7.5,2.2],[7.55,1.95],[7.6,1.7],[7.65,2.1],[7.7,1.85],[7.75,2.3],[7.8,2.0],[7.85,1.75],[7.9,2.25],[7.95,2.45],
[8.0,2.1],[8.05,2.35],[8.1,1.95],[8.15,2.5],[8.2,2.2],[8.25,2.0],[8.3,2.4],[8.35,2.15],[8.4,2.57],[8.45,2.3],[8.5,2.05],[8.55,2.45],[8.6,2.25],[8.65,2.6],[8.7,2.35],[8.75,2.15],[8.8,2.5],[8.85,2.3],[8.9,2.65],[8.95,2.4],
[9.0,2.55],[9.05,2.25],[9.1,2.7],[9.15,2.45],[9.2,2.6],[9.25,2.35],[9.3,2.75],[9.35,2.5],[9.4,2.65],[9.45,2.3],[9.5,2.8],[9.55,2.55],[9.6,2.7],[9.65,2.4],[9.7,2.85],[9.75,2.6],[9.8,2.5],[9.85,2.75],[9.9,2.45],[9.95,2.9],
[10.0,1.93],[10.05,2.65],[10.1,2.8],[10.15,2.55],[10.2,2.95],[10.25,1.42],[10.3,2.7],[10.35,2.85],[10.4,2.6],[10.45,3.0],[10.5,2.75],[10.55,2.5],[10.6,2.9],[10.65,2.7],[10.7,3.05],[10.75,2.8],[10.8,2.6],[10.85,2.95],[10.9,2.75],[10.95,3.1],
[11.0,2.85],[11.05,2.65],[11.1,3.0],[11.15,2.8],[11.2,3.15],[11.25,2.9],[11.3,2.7],[11.35,3.31],[11.4,2.35],[11.45,3.05],[11.5,2.85],[11.55,3.2],[11.6,2.57],[11.65,2.95],[11.7,3.1],[11.75,2.8],[11.8,3.25],[11.85,3.0],[11.9,2.9],[11.95,3.15],[12.0,3.05]];
const so4Core = [3.0,3.2,3.1,2.95,3.25,3.05,3.15,2.9,3.2,3.1, 3.05,3.25,3.15,3.0,3.3,3.1,3.2,2.95,3.25,3.15,
3.2,3.05,3.3,3.15,3.25,3.1,3.35,3.2,3.3,3.4, 3.25,3.35,3.2,3.4,3.3,3.15,3.25,3.05,3.15,2.9,
2.95,2.75,2.85,2.6,2.7,2.5,2.55,2.35,2.45,2.25, 2.35,2.15,2.25,2.05,2.15,1.95,2.1,1.85,2.0,1.9,
1.95,1.8,2.05,1.85,1.75,1.95,1.8,1.7,1.9,1.75, 1.85,1.7,1.95,1.8,1.9,1.75,2.0,1.85,2.05,2.1,
2.0,2.15,2.25,2.1,2.3,2.2,2.35,2.25,2.45,2.35, 2.4,2.5,2.35,2.55,2.45,2.6,2.5,2.65,2.55,2.7,
2.6,2.75,2.65,2.8,2.7,2.85,2.75,2.9,2.8,2.85, 2.75,2.9,2.85,2.95,2.8,3.0,2.9,3.05,2.95,3.0];
const so4Line = [[0,3.05],[0.5,3.11],[1,3.14],[1.5,3.15],[2,3.16],[2.5,3.21],[3,3.27],[3.3,3.29],[3.6,3.23],[4,2.97],[4.5,2.63],[5,2.34],[5.5,2.11],[6,1.97],[6.5,1.9],[7,1.87],[7.5,1.9],[8,2.07],[8.5,2.25],[9,2.42],[9.5,2.57],[10,2.7],[10.5,2.78],[11,2.84],[11.5,2.92],[12,3.01]];
const so4Obs = [2.68, 2.86, 2.40, 2.96, 2.32, 3.09];

// ---- (h) NH4+ ----
const nh4Dots = [[0.02,1.33],[0.05,2.05],[0.1,1.8],[0.15,2.25],[0.2,1.95],[0.25,2.35],[0.3,1.7],[0.35,2.1],[0.4,1.9],[0.45,2.3],[0.5,1.4],[0.55,2.0],[0.6,2.2],[0.65,1.75],[0.7,2.1],[0.75,1.95],[0.8,2.4],[0.85,1.65],[0.9,2.15],[0.95,1.85],
[1.0,2.05],[1.05,1.55],[1.1,2.25],[1.15,1.9],[1.2,2.53],[1.25,2.0],[1.3,1.75],[1.35,2.2],[1.4,1.95],[1.45,2.35],[1.5,1.6],[1.55,2.1],[1.6,1.85],[1.65,2.3],[1.7,2.0],[1.75,1.7],[1.8,2.2],[1.85,2.62],[1.9,1.95],[1.95,2.15],
[2.0,1.8],[2.05,2.25],[2.1,2.0],[2.15,2.4],[2.2,1.7],[2.25,2.15],[2.3,1.95],[2.35,2.45],[2.4,2.05],[2.45,1.85],[2.5,2.3],[2.55,2.1],[2.6,2.5],[2.65,1.9],[2.7,2.2],[2.75,2.35],[2.8,2.0],[2.85,2.4],[2.9,2.15],[2.95,1.95],
[3.0,2.3],[3.05,2.1],[3.1,2.54],[3.15,2.0],[3.2,2.25],[3.25,1.9],[3.3,2.35],[3.35,2.15],[3.4,1.95],[3.45,2.25],[3.5,2.05],[3.55,1.8],[3.6,2.2],[3.65,2.0],[3.7,1.75],[3.75,2.1],[3.8,1.9],[3.85,1.65],[3.9,2.05],[3.95,1.85],
[4.0,1.7],[4.05,1.95],[4.1,1.55],[4.15,1.85],[4.2,1.6],[4.25,2.0],[4.3,1.75],[4.35,1.5],[4.4,1.8],[4.45,1.24],[4.5,1.65],[4.55,1.9],[4.6,1.45],[4.65,1.75],[4.7,1.55],[4.75,1.3],[4.8,1.6],[4.85,1.8],[4.9,1.4],[4.95,1.55],
[5.0,1.65],[5.05,1.35],[5.1,1.5],[5.15,1.1],[5.2,1.6],[5.25,1.4],[5.3,1.75],[5.35,1.2],[5.4,1.45],[5.45,1.05],[5.5,1.55],[5.55,1.3],[5.6,1.65],[5.65,1.15],[5.7,1.4],[5.75,1.25],[5.8,1.5],[5.85,1.0],[5.9,1.35],[5.95,1.6],
[6.0,1.25],[6.05,1.4],[6.1,0.79],[6.15,1.3],[6.2,1.5],[6.25,1.1],[6.3,1.35],[6.35,0.8],[6.4,1.45],[6.45,1.2],[6.5,1.6],[6.55,1.0],[6.6,1.3],[6.65,1.45],[6.7,0.78],[6.75,1.15],[6.8,1.4],[6.85,1.25],[6.9,0.8],[6.95,1.5],
[7.0,1.3],[7.05,1.1],[7.1,1.45],[7.15,1.2],[7.2,1.35],[7.25,0.95],[7.3,1.25],[7.35,1.4],[7.4,1.05],[7.45,1.3],[7.5,1.15],[7.55,0.63],[7.6,1.35],[7.65,1.0],[7.7,1.25],[7.75,0.6],[7.8,1.4],[7.85,1.1],[7.9,0.68],[7.95,1.3],
[8.0,1.15],[8.05,0.42],[8.1,1.35],[8.15,1.0],[8.2,1.25],[8.25,0.9],[8.3,1.4],[8.35,1.1],[8.4,0.66],[8.45,1.3],[8.5,1.05],[8.55,1.2],[8.6,0.85],[8.65,1.35],[8.7,1.1],[8.75,0.95],[8.8,1.25],[8.85,0.67],[8.9,1.15],[8.95,1.3],
[9.0,1.0],[9.05,1.2],[9.1,1.4],[9.15,0.9],[9.2,1.3],[9.25,1.1],[9.3,1.5],[9.35,1.2],[9.4,0.95],[9.45,1.35],[9.5,1.55],[9.55,1.15],[9.6,1.4],[9.65,1.25],[9.7,1.65],[9.75,1.3],[9.8,1.05],[9.85,1.5],[9.9,1.35],[9.95,1.7],
[10.0,1.45],[10.05,1.2],[10.1,1.6],[10.15,1.35],[10.2,1.75],[10.25,1.5],[10.3,1.3],[10.35,1.65],[10.4,1.85],[10.45,1.45],[10.5,1.7],[10.55,1.55],[10.6,1.9],[10.65,1.35],[10.7,1.75],[10.75,1.6],[10.8,1.95],[10.85,1.5],[10.9,1.8],[10.95,2.05],
[11.0,1.65],[11.05,2.29],[11.1,1.85],[11.15,1.5],[11.2,1.95],[11.25,1.16],[11.3,1.75],[11.35,2.1],[11.4,1.2],[11.45,1.9],[11.5,1.7],[11.55,2.0],[11.6,1.27],[11.65,1.85],[11.7,2.44],[11.75,1.75],[11.8,2.05],[11.85,1.6],[11.9,2.15],[11.95,1.9],[12.0,2.29]];
const nh4Core = [1.9,2.15,2.0,1.8,2.2,1.95,2.1,1.85,2.05,2.25, 1.95,2.15,1.85,2.3,2.05,1.9,2.2,2.0,2.35,2.1,
2.25,1.95,2.15,2.35,2.05,2.25,1.95,2.3,2.1,2.2, 2.0,2.25,2.1,1.9,2.15,1.95,2.05,1.85,2.0,1.8,
1.9,1.7,1.8,1.6,1.75,1.55,1.65,1.45,1.6,1.5, 1.55,1.35,1.5,1.3,1.45,1.25,1.4,1.2,1.35,1.45,
1.3,1.15,1.4,1.25,1.35,1.1,1.3,1.2,1.4,1.25, 1.15,1.3,1.05,1.25,1.35,1.1,1.2,1.3,1.0,1.2,
1.1,1.25,0.95,1.15,1.3,1.05,1.2,1.1,1.25,1.0, 1.15,1.3,1.05,1.25,1.35,1.15,1.3,1.45,1.2,1.4,
1.5,1.3,1.6,1.45,1.7,1.55,1.4,1.75,1.6,1.85, 1.65,1.8,1.95,1.7,1.85,2.0,1.8,1.95,2.05,1.9];
const nh4Line = [[0,1.97],[0.5,2.01],[1,2.04],[1.5,2.08],[2,2.11],[2.5,2.14],[3,2.13],[3.5,2.05],[4,1.9],[4.5,1.72],[5,1.55],[5.5,1.41],[6,1.34],[6.5,1.31],[7,1.28],[7.5,1.24],[8,1.2],[8.5,1.16],[9,1.16],[9.5,1.24],[10,1.4],[10.5,1.58],[11,1.74],[11.5,1.87],[12,1.95]];
const nh4Obs = [2.66, 1.83, 2.38, 2.94, 1.43, 2.03];

const panels = [
  {title:'(a) Al (ng m{p|-3})', dots:alDots, core:alCore, line:alLine, obs:alObs, col:0, row:0, min:-1, max:3.7},
  {title:'(b) Cl{p|-} (ng m{p|-3})', dots:clDots, core:clCore, line:clLine, obs:clObs, col:1, row:0, min:0, max:3.69},
  {title:'(c) Na{p|+}  (ng m{p|-3})', dots:naDots, core:naCore, line:naLine, obs:naObs, col:0, row:1, min:-0.31, max:3.7},
  {title:'(d) Zn  (ng m{p|-3})', dots:znDots, core:znCore, line:znLine, obs:znObs, col:1, row:1, min:-1.31, max:1.69},
  {title:'(e) Pb (ng m{p|-3})', dots:pbDots, core:pbCore, line:pbLine, obs:pbObs, col:0, row:2, min:-2, max:1},
  {title:'(f) NO{b|3}{p|-} (ng m{p|-3})', dots:no3Dots, core:no3Core, line:no3Line, obs:no3Obs, col:1, row:2, min:0, max:2.7},
  {title:'(g) SO{b|4}{p|2-} (ng m{p|-3})', dots:so4Dots, core:so4Core, line:so4Line, obs:so4Obs, col:0, row:3, min:0.69, max:3.69},
  {title:'(h) NH{b|4}{p|+} (ng m{p|-3})', dots:nh4Dots, core:nh4Core, line:nh4Line, obs:nh4Obs, col:1, row:3, min:0, max:3, plain:true, dmin:-0.08, dmax:2.92}
];

const FONT = '"Liberation Sans", Arial, Helvetica, sans-serif';
const NUMFONT = '"DejaVu Sans", Verdana, sans-serif';
const INK = '#111';
const RED = '#f01c1c';
const colLeft = [68.7, 545.7], W = 372.7;
const rowTop = [42.5, 327, 613, 894], rowH = [217, 218, 218, 219];
const titleY = [31, 313, 599, 883];

function renderObs(params, api) {
  const x = api.value(0), y = api.value(1);
  const c = api.coord([x, y]);
  const l = api.coord([api.value(2), y]), r = api.coord([api.value(3), y]);
  const b = api.coord([x, api.value(4)]), t = api.coord([x, api.value(5)]);
  const st = {stroke: RED, lineWidth: 1.6};
  const ln = (x1, y1, x2, y2) => ({type:'line', shape:{x1, y1, x2, y2}, style: st});
  return {type:'group', children:[
    ln(c[0], b[1], c[0], t[1]), ln(c[0]-3.5, t[1], c[0]+3.5, t[1]), ln(c[0]-3.5, b[1], c[0]+3.5, b[1]),
    ln(l[0], c[1], r[0], c[1]), ln(l[0], c[1]-3, l[0], c[1]+3), ln(r[0], c[1]-3, r[0], c[1]+3),
    {type:'rect', shape:{x:c[0]-4.5, y:c[1]-4.5, width:9, height:9}, style:{fill: RED}}
  ]};
}

const grids = [], xAxes = [], yAxes = [], series = [], titles = [];
panels.forEach((p, i) => {
  grids.push({left: colLeft[p.col], top: rowTop[p.row], width: W, height: rowH[p.row], containLabel: false});
  const axLine = {show: true, onZero: false, lineStyle: {color: INK, width: 2}};
  const noLine = {show: false, onZero: false};
  const tickSt = {color: INK, width: 1.2};
  const xBase = {type:'value', gridIndex: i, min: -0.5, max: 12.5, splitLine: {show: false}, axisLine: axLine};
  xAxes.push(Object.assign({}, xBase, {position:'bottom',
    axisTick: {inside: true, length: 6, customValues: tickMonths, lineStyle: tickSt},
    axisLabel: {customValues: labelMonths, formatter: v => monthNames[labelMonths.indexOf(Math.round(v))],
      fontSize: 17, fontWeight: 'bold', color: INK, fontFamily: FONT, margin: 10}}));
  xAxes.push(Object.assign({}, xBase, {position:'top',
    axisTick: {inside: true, length: 6, customValues: tickMonths, lineStyle: tickSt},
    axisLabel: {show: false}}));

  const majors = [];
  for (let k = Math.ceil(p.min - 1e-9); k <= Math.floor(p.max + 1e-9); k++) majors.push(k);
  const minors = [];
  for (let k = Math.floor(p.min); k <= Math.ceil(p.max); k++)
    for (let j = 2; j <= 9; j++) { const v = k + Math.log10(j); if (v > p.min && v < p.max) minors.push(v); }
  const yBase = {type:'value', gridIndex: i, min: p.min, max: p.max, splitLine: {show: false}};
  const label = p.plain
    ? {customValues: majors, align: 'left', margin: 28, formatter: v => String(Math.round(v)),
       fontSize: 13, fontWeight: 'bold', color: INK, fontFamily: FONT, padding: [0, 0, 12, 0]}
    : {customValues: majors, align: 'left', margin: 58,
       formatter: v => '{m|10}{e|' + Math.round(v) + '}',
       rich: {
         m: {fontSize: 14, fontWeight: 'bold', color: INK, fontFamily: NUMFONT, lineHeight: 14, padding: [10, 0, 0, 0]},
         e: {fontSize: 12, fontWeight: 'bold', color: INK, fontFamily: NUMFONT, lineHeight: 10, padding: [1, 0, 13, 8]}
       }};
  yAxes.push(Object.assign({}, yBase, {position:'left', axisLine: axLine,
    axisTick: {inside: true, length: 7, customValues: majors, lineStyle: tickSt}, axisLabel: label}));
  yAxes.push(Object.assign({}, yBase, {position:'left', axisLine: noLine,
    axisTick: {inside: true, length: 4, customValues: minors, lineStyle: tickSt}, axisLabel: {show: false}}));
  yAxes.push(Object.assign({}, yBase, {position:'right', axisLine: axLine,
    axisTick: {inside: true, length: 7, customValues: majors, lineStyle: tickSt}, axisLabel: {show: false}}));
  yAxes.push(Object.assign({}, yBase, {position:'right', axisLine: noLine,
    axisTick: {inside: true, length: 4, customValues: minors, lineStyle: tickSt}, axisLabel: {show: false}}));
  yAxes.push({type:'value', gridIndex: i, min: p.dmin !== undefined ? p.dmin : p.min,
    max: p.dmax !== undefined ? p.dmax : p.max, show: false, position: 'left', axisLine: noLine, splitLine: {show: false}});

  const xi = i * 2, yi = i * 5 + 4;
  const coreData = p.core.map((v, k) => [coreMonths[k], v]);
  series.push({type:'scatter', xAxisIndex: xi, yAxisIndex: yi, data: p.dots.concat(coreData), symbol: 'rect', symbolSize: 2.4,
    itemStyle: {color: '#000'}, silent: true, z: 2, animation: false});
  series.push({type:'line', xAxisIndex: xi, yAxisIndex: yi, data: p.line, smooth: 0.5, symbol: 'none', showSymbol: false,
    lineStyle: {color: INK, width: 2.6}, silent: true, z: 3, animation: false});
  series.push({type:'custom', xAxisIndex: xi, yAxisIndex: yi, data: [p.obs], renderItem: renderObs,
    encode: {x: 0, y: 1}, clip: true, silent: true, z: 4, animation: false});

  titles.push({text: p.title, left: colLeft[p.col] + W / 2, top: titleY[p.row] - 14, textAlign: 'center', padding: 0,
    textStyle: {fontSize: 21, fontWeight: 'normal', fontFamily: FONT, color: INK, lineHeight: 28,
      rich: {
        p: {fontSize: 13, fontFamily: FONT, color: INK, lineHeight: 13, verticalAlign: 'top', padding: [0, 0, 0, 1]},
        b: {fontSize: 13, fontFamily: FONT, color: INK, lineHeight: 13, verticalAlign: 'bottom'}
      }}});
});

const chart = echarts.init(document.getElementById('c'), null, {renderer: 'canvas'});
chart.setOption({
  animation: false,
  backgroundColor: '#fff',
  textStyle: {fontFamily: FONT},
  title: titles, grid: grids, xAxis: xAxes, yAxis: yAxes, series: series
});
</script></body></html>
